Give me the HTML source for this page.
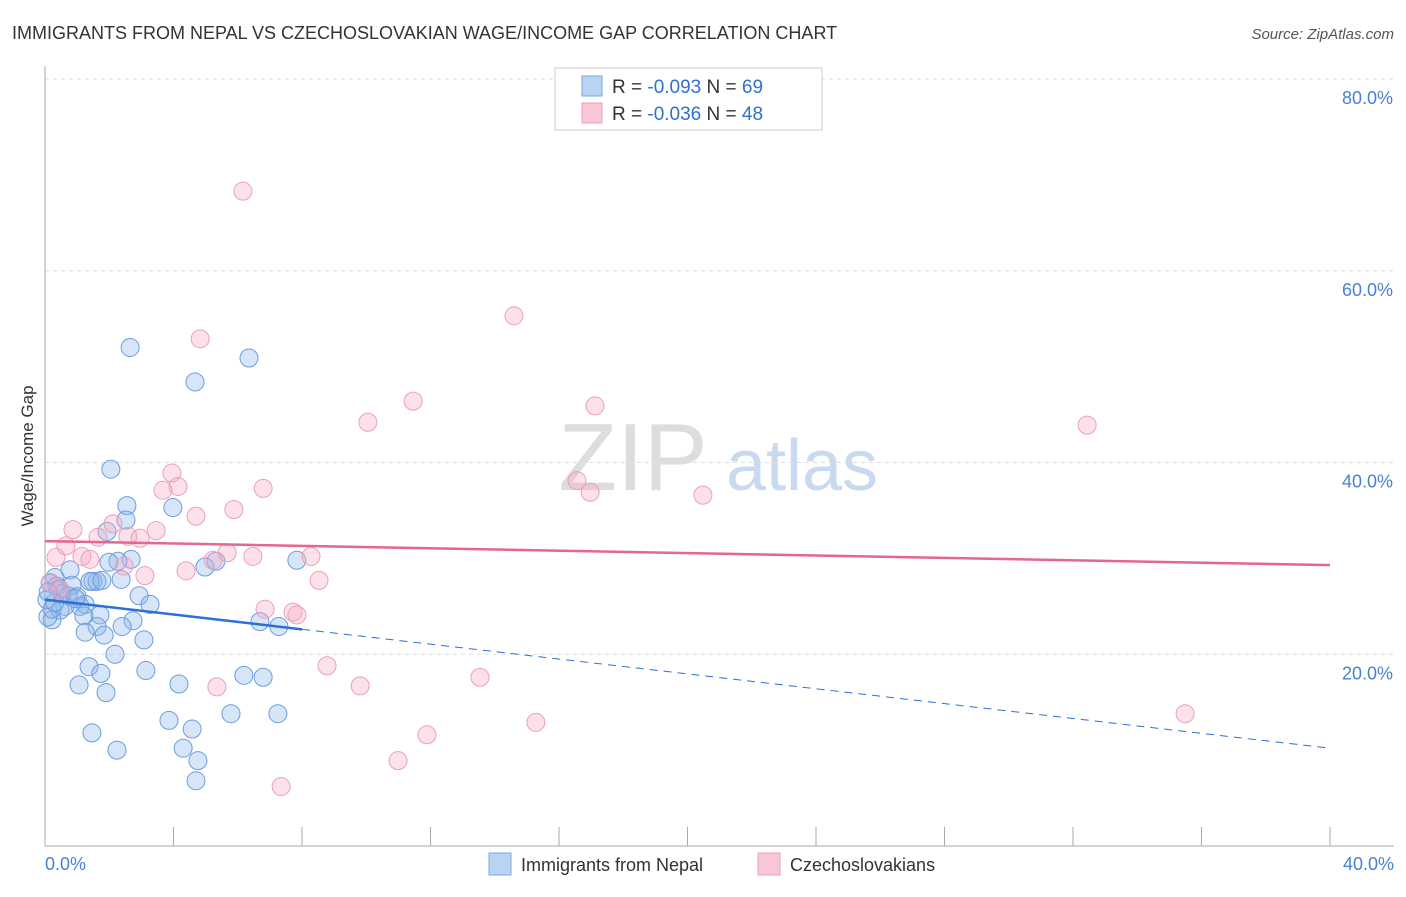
<!DOCTYPE html>
<html><head><meta charset="utf-8"><style>
body{margin:0;background:#fff;font-family:"Liberation Sans",sans-serif}
svg text{font-family:"Liberation Sans",sans-serif}
</style></head><body>
<svg id="c" width="1406" height="892">
<text x="12" y="39" font-size="18" fill="#333">IMMIGRANTS FROM NEPAL VS CZECHOSLOVAKIAN WAGE/INCOME GAP CORRELATION CHART</text>
<text x="1394" y="39" font-size="15" fill="#555" text-anchor="end" font-style="italic">Source: ZipAtlas.com</text>
<text transform="translate(33,456) rotate(-90)" font-size="17" fill="#333" text-anchor="middle">Wage/Income Gap</text>
<g><text x="633" y="490" font-size="96" fill="#ddd" text-anchor="middle" font-family="Liberation Serif">ZIP</text><text x="802" y="490" font-size="72" fill="#c9daf0" text-anchor="middle">atlas</text></g>
<g id="grid"></g><g id="pts"></g><g id="lines"></g>
<g>
<rect x="555" y="68" width="267" height="62" fill="#fff" stroke="#ccc"/>
<rect x="582" y="76" width="20" height="20" fill="#b9d3f3" stroke="#7aa7e0"/>
<rect x="582" y="103" width="20" height="20" fill="#f8c6d5" stroke="#eda0b8"/>
<text x="612" y="93" font-size="19" fill="#333">R = <tspan fill="#2f6fd0">-0.093</tspan>   N = <tspan fill="#2f6fd0">69</tspan></text>
<text x="612" y="120" font-size="19" fill="#333">R = <tspan fill="#2f6fd0">-0.036</tspan>   N = <tspan fill="#2f6fd0">48</tspan></text>
</g>
<g>
<rect x="489" y="853" width="22" height="22" fill="#b9d3f3" stroke="#7aa7e0"/>
<text x="521" y="871" font-size="18" fill="#333">Immigrants from Nepal</text>
<rect x="758" y="853" width="22" height="22" fill="#f8c6d5" stroke="#eda0b8"/>
<text x="790" y="871" font-size="18" fill="#333">Czechoslovakians</text>
</g>
</svg>
<script>
const yTicks=[20,40,60,80];
const xTicks=[0,4,8,12,16,20,24,28,32,36,40];
const nepalX=[2.65,6.35,4.67,2.05,2.55,2.52,3.98,1.93,2.68,2.27,1.99,7.84,5.32,4.98,0.78,0.31,1.49,1.62,1.40,1.77,2.37,0.16,0.37,0.84,0.53,0.72,1.00,2.93,3.27,1.25,1.09,0.62,0.47,1.71,1.21,0.22,2.74,2.40,1.62,6.69,7.28,1.25,1.84,3.08,2.18,1.37,3.14,1.74,6.19,6.79,1.06,1.90,4.17,5.79,7.25,3.86,1.46,4.58,4.30,2.24,4.76,4.70,0.06,0.09,0.22,0.45,0.30,0.95,0.10];
const nepalY=[52.0,50.9,48.4,39.3,35.5,34.0,35.3,32.8,29.9,29.7,29.6,29.8,29.7,29.1,28.8,28.0,27.6,27.6,27.6,27.7,27.8,27.4,27.1,27.2,26.3,26.1,26.0,26.1,25.2,25.2,25.0,25.0,24.6,24.1,24.0,23.6,23.5,22.9,22.9,23.4,22.9,22.3,22.0,21.5,20.0,18.7,18.3,18.0,17.8,17.6,16.8,16.0,16.9,13.8,13.8,13.1,11.8,12.2,10.2,10.0,8.9,6.8,25.7,23.9,24.7,26.8,25.4,25.8,26.5];
const czX=[6.16,14.60,4.83,11.46,17.12,10.05,32.44,3.95,4.14,3.67,6.79,16.56,16.97,20.48,5.88,4.70,2.12,0.87,3.46,1.65,2.58,2.96,0.65,0.34,1.15,1.40,5.67,5.23,6.47,8.28,2.46,3.11,4.39,8.53,0.16,6.85,7.72,7.84,8.78,13.54,5.35,9.81,15.28,11.89,10.99,7.35,35.49,0.47];
const czY=[68.3,55.3,52.9,46.4,45.9,44.2,43.9,38.9,37.5,37.1,37.3,38.1,36.9,36.6,35.1,34.4,33.6,33.0,32.9,32.2,32.3,32.1,31.3,30.1,30.2,29.9,30.6,29.8,30.2,30.2,29.2,28.2,28.7,27.7,27.5,24.7,24.4,24.1,18.8,17.6,16.6,16.7,12.9,11.6,8.9,6.2,13.8,26.7];
const nepalTrend=[25.7,-0.3875]; // intercept, slope
const czTrend=[31.8,-0.0625];
const NS="http://www.w3.org/2000/svg";
const X=v=>45+v/40*1285, Y=v=>846-v/20*191.75;
function mk(t,a,p){const e=document.createElementNS(NS,t);for(const k in a)e.setAttribute(k,a[k]);document.getElementById(p).appendChild(e);return e;}
for(const t of yTicks){
 const g=mk('line',{x1:45,x2:1394,y1:Y(t),y2:Y(t),stroke:'#ddd','stroke-dasharray':'4,4'},'grid');
 
 
 const tx=mk('text',{x:1393,y:Y(t)+25,'font-size':18,fill:'#4a7fd6','text-anchor':'end'},'grid');
 tx.textContent=t.toFixed(1)+'%';
 
 
}
const ax=mk('line',{x1:45,x2:45,y1:66,y2:846,stroke:'#aaa'},'grid');


const bx=mk('line',{x1:45,x2:1394,y1:846,y2:846,stroke:'#aaa'},'grid');


for(const t of xTicks){
 const l=mk('line',{x1:X(t),x2:X(t),y1:827,y2:846,stroke:'#aaa'},'grid');
 
 
}
[[0,'start',45],[40,'end',1394]].forEach(([v,a,x])=>{const t=mk('text',{x:x,y:870,'font-size':18,fill:'#4a7fd6','text-anchor':a},'grid');t.textContent=v.toFixed(1)+'%';

});
nepalX.forEach((x,i)=>{const c=mk('circle',{cx:X(x),cy:Y(nepalY[i]),r:9,fill:'rgba(140,180,235,0.35)',stroke:'#6a9de0','stroke-width':1},'pts');

});
czX.forEach((x,i)=>{const c=mk('circle',{cx:X(x),cy:Y(czY[i]),r:9,fill:'rgba(245,170,195,0.35)',stroke:'#eba0b9','stroke-width':1},'pts');

});
const f=(tr,x)=>tr[0]+tr[1]*x;
const l1=mk('line',{x1:X(0),y1:Y(f(nepalTrend,0)),x2:X(8),y2:Y(f(nepalTrend,8)),stroke:'#2c6fd6','stroke-width':2.5},'lines');


const l2=mk('line',{x1:X(8),y1:Y(f(nepalTrend,8)),x2:X(40),y2:Y(f(nepalTrend,40)),stroke:'#2c6fd6','stroke-width':1,'stroke-dasharray':'8,6'},'lines');


const l3=mk('line',{x1:X(0),y1:Y(f(czTrend,0)),x2:X(40),y2:Y(f(czTrend,40)),stroke:'#e5668f','stroke-width':2.5},'lines');


</script>
</body></html>
